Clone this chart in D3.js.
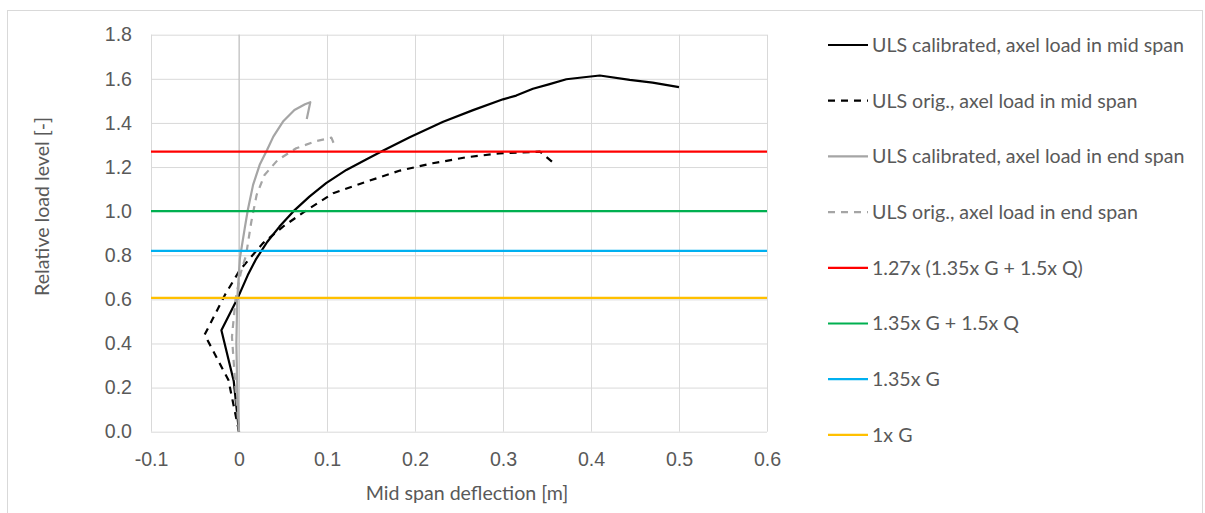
<!DOCTYPE html>
<html>
<head>
<meta charset="utf-8">
<script src="https://cdn.jsdelivr.net/npm/d3@7"></script>
<style>
  html, body { margin: 0; padding: 0; background: #fff; }
  svg { display: block; font-family: Lato, "Open Sans", sans-serif; }
  .tick text { fill: #595959; }
</style>
</head>
<body>
<div id="chart"></div>
<script>
const W = 1205;
const H = 513;
const FS = 19.6;

// deflection [m], relative load level [-]
const calibMid = [
  [0, 0], [-0.006, 0.23], [-0.020, 0.46], [-0.001, 0.61], [0.010, 0.71], [0.019, 0.78],
  [0.032, 0.86], [0.046, 0.93], [0.062, 1.00], [0.080, 1.066], [0.099, 1.127], [0.122, 1.187],
  [0.145, 1.235], [0.164, 1.275], [0.194, 1.335], [0.232, 1.405], [0.266, 1.458], [0.300, 1.507],
  [0.315, 1.524], [0.334, 1.555], [0.352, 1.575], [0.372, 1.598], [0.392, 1.607], [0.410, 1.615],
  [0.444, 1.595], [0.470, 1.583], [0.500, 1.562],
];
const origMid = [
  [0, 0], [-0.012, 0.234], [-0.039, 0.44], [-0.016, 0.62], [0.001, 0.733], [0.027, 0.854],
  [0.050, 0.93], [0.077, 1.005], [0.107, 1.081], [0.145, 1.134], [0.183, 1.184], [0.220, 1.217],
  [0.258, 1.244], [0.296, 1.262], [0.342, 1.27], [0.357, 1.22],
];
const calibEnd = [
  [0, 0], [-0.002, 0.2], [-0.003, 0.4], [-0.002, 0.6], [0.001, 0.786], [0.0065, 0.922],
  [0.010, 1.005], [0.016, 1.119], [0.0235, 1.21], [0.032, 1.278], [0.039, 1.338], [0.050, 1.406],
  [0.063, 1.459], [0.075, 1.485], [0.081, 1.494], [0.077, 1.418],
];
const origEnd = [
  [0, 0], [-0.004, 0.2], [-0.008, 0.43], [-0.004, 0.6], [0.002, 0.72], [0.008, 0.8], [0.014, 0.952],
  [0.020, 1.073], [0.029, 1.164], [0.044, 1.232], [0.065, 1.285], [0.088, 1.318], [0.105, 1.333],
  [0.110, 1.285],
];

const levelNames = ["1.27x (1.35x G + 1.5x Q)", "1.35x G + 1.5x Q", "1.35x G", "1x G"];
const levelValues = [1.27, 1.0, 0.82, 0.607];

const xTicks = [-0.1, 0, 0.1, 0.2, 0.3, 0.4, 0.5, 0.6];
const xTickLabels = ["-0.1", "0", "0.1", "0.2", "0.3", "0.4", "0.5", "0.6"];
const yTicks = [0, 0.2, 0.4, 0.6, 0.8, 1.0, 1.2, 1.4, 1.6, 1.8];

const series = [
  { name: "ULS calibrated, axel load in mid span", pts: calibMid, color: "#000000", dash: null },
  { name: "ULS orig., axel load in mid span", pts: origMid, color: "#000000", dash: "7,6" },
  { name: "ULS calibrated, axel load in end span", pts: calibEnd, color: "#a5a5a5", dash: null },
  { name: "ULS orig., axel load in end span", pts: origEnd, color: "#a5a5a5", dash: "7,6" },
];
const levelColors = ["#ff0000", "#00b050", "#00b0f0", "#ffc000"];

const m = { left: 151, right: 767, top: 34.7, bottom: 431.7 };

const x = d3.scaleLinear().domain([-0.1, 0.6]).range([m.left, m.right]);
const y = d3.scaleLinear().domain([0, 1.8]).range([m.bottom, m.top]);

const svg = d3.select("#chart").append("svg").attr("width", W).attr("height", H);

svg.append("rect")
  .attr("x", 7.5).attr("y", 10.5).attr("width", 1195).attr("height", 510)
  .attr("fill", "#fff").attr("stroke", "#d9d9d9");

// grid
svg.append("g")
  .attr("transform", `translate(0,${m.bottom})`)
  .call(d3.axisBottom(x).tickValues(xTicks).tickSize(-(m.bottom - m.top)).tickFormat(""))
  .call((g) => g.select(".domain").remove())
  .call((g) => g.selectAll("line").attr("stroke", "#d9d9d9"));
svg.append("g")
  .attr("transform", `translate(${m.left},0)`)
  .call(d3.axisLeft(y).tickValues(yTicks).tickSize(-(m.right - m.left)).tickFormat(""))
  .call((g) => g.select(".domain").remove())
  .call((g) => g.selectAll("line").attr("stroke", "#d9d9d9"));

// value axis crossing at x = 0
svg.append("line")
  .attr("x1", x(0)).attr("x2", x(0)).attr("y1", m.top).attr("y2", m.bottom)
  .attr("stroke", "#bfbfbf");

// tick labels
svg.append("g")
  .attr("transform", `translate(0,${m.bottom})`)
  .call(d3.axisBottom(x).tickValues(xTicks).tickSize(0).tickPadding(0)
    .tickFormat((d, i) => xTickLabels[i]))
  .call((g) => g.select(".domain").remove())
  .call((g) => g.selectAll("text").attr("y", 27).attr("dy", "0.35em").attr("font-size", FS));
svg.append("g")
  .attr("transform", `translate(${m.left},0)`)
  .call(d3.axisLeft(y).tickValues(yTicks).tickSize(0).tickFormat(d3.format(".1f")))
  .call((g) => g.select(".domain").remove())
  .call((g) => g.selectAll("text").attr("x", -19).attr("font-size", FS));

const line = d3.line().x((d) => x(d[0])).y((d) => y(d[1]));

svg.append("g").selectAll("path")
  .data(series)
  .join("path")
  .attr("d", (d) => line(d.pts))
  .attr("fill", "none")
  .attr("stroke", (d) => d.color)
  .attr("stroke-width", 2.2)
  .attr("stroke-dasharray", (d) => d.dash)
  .attr("stroke-linejoin", "round");

svg.append("g").selectAll("line")
  .data(levelValues)
  .join("line")
  .attr("x1", m.left).attr("x2", m.right)
  .attr("y1", (d) => y(d)).attr("y2", (d) => y(d))
  .attr("stroke", (d, i) => levelColors[i])
  .attr("stroke-width", 2.2);

// axis titles
svg.append("text")
  .attr("transform", "translate(41.7,206.5) rotate(-90)")
  .attr("text-anchor", "middle").attr("dy", "0.35em")
  .attr("font-size", FS).attr("fill", "#595959")
  .text("Relative load level [-]");
svg.append("text")
  .attr("x", 467).attr("y", 493.3)
  .attr("text-anchor", "middle").attr("dy", "0.35em")
  .attr("font-size", FS).attr("fill", "#595959")
  .text("Mid span deflection [m]");

// legend
const legendItems = series.map((s) => ({ name: s.name, color: s.color, dash: s.dash }))
  .concat(levelNames.map((n, i) => ({ name: n, color: levelColors[i], dash: null })));

const leg = svg.append("g").selectAll("g")
  .data(legendItems)
  .join("g")
  .attr("transform", (d, i) => `translate(828,${45 + i * 55.7})`);
leg.append("line")
  .attr("x1", 0).attr("x2", 40)
  .attr("stroke", (d) => d.color)
  .attr("stroke-width", 2.2)
  .attr("stroke-dasharray", (d) => d.dash);
leg.append("text")
  .attr("x", 44).attr("dy", "0.35em")
  .attr("font-size", FS).attr("fill", "#595959")
  .text((d) => d.name);
</script>
</body>
</html>
